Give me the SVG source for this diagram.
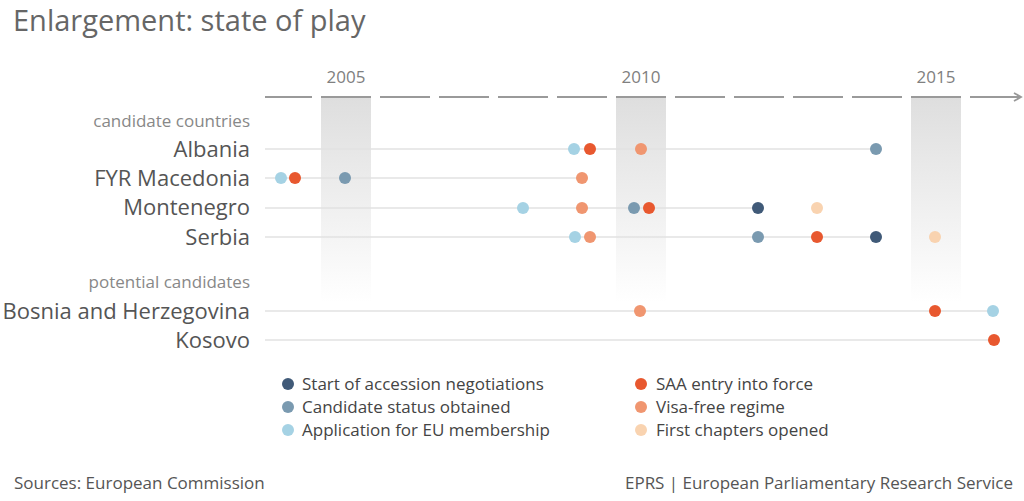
<svg xmlns="http://www.w3.org/2000/svg" width="1024" height="501" viewBox="0 0 1024 501">
<defs>
<linearGradient id="shade" x1="0" y1="0" x2="0" y2="1">
<stop offset="0" stop-color="#dedede"/>
<stop offset="1" stop-color="#ffffff"/>
</linearGradient>
<marker id="arr" markerWidth="10" markerHeight="10" refX="8" refY="5" orient="auto" markerUnits="userSpaceOnUse">
<path d="M1,1 L8,5 L1,9" fill="none" stroke="#999" stroke-width="1.8"/>
</marker>
</defs>
<style>
text{font-family:"Open Sans","Noto Sans","Liberation Sans",sans-serif}
.title{font-size:29px;fill:#666}
.year{font-size:17px;fill:#808080;text-anchor:middle}
.grp{font-size:17px;fill:#888;text-anchor:end}
.cty{font-size:22px;fill:#555;text-anchor:end}
.leg{font-size:17px;fill:#444}
.foot{font-size:17px;fill:#555}
.dash{stroke:#9a9a9a;stroke-width:2}
.row{stroke:#e2e2e2;stroke-width:1.5}
.d1{fill:#405a78}.d2{fill:#7a9ab0}.d3{fill:#a5d2e4}
.d4{fill:#e8582f}.d5{fill:#f09670}.d6{fill:#f9d3b0}
</style>
<rect width="1024" height="501" fill="#fff"/>
<text class="title" x="13" y="31">Enlargement: state of play</text>
<g id="axis">
<rect x="321" y="97" width="50" height="205" fill="url(#shade)"/>
<rect x="616" y="97" width="50" height="205" fill="url(#shade)"/>
<rect x="911" y="97" width="50" height="205" fill="url(#shade)"/>
<text class="year" x="346" y="83">2005</text>
<text class="year" x="641" y="83">2010</text>
<text class="year" x="936" y="83">2015</text>
<path class="dash" d="M265,97H312M321,97H371M380,97H430M439,97H489M498,97H548M557,97H607M616,97H666M675,97H725M734,97H784M793,97H843M852,97H902M911,97H961"/>
<line class="dash" x1="970" y1="97" x2="1021" y2="97" marker-end="url(#arr)"/>
</g>
<g id="connectors">
<line class="row" x1="265" y1="149" x2="876" y2="149"/>
<line class="row" x1="265" y1="178" x2="582" y2="178"/>
<line class="row" x1="265" y1="208" x2="758" y2="208"/>
<line class="row" x1="265" y1="237" x2="876" y2="237"/>
<line class="row" x1="265" y1="311" x2="993" y2="311"/>
<line class="row" x1="265" y1="340" x2="994" y2="340"/>
</g>
<text class="grp" x="250" y="127">candidate countries</text>
<text class="grp" x="250" y="288">potential candidates</text>
<g id="albania">
<text class="cty" x="250" y="157">Albania</text>
<circle class="d3" cx="574" cy="149" r="6"/>
<circle class="d4" cx="590" cy="149" r="6"/>
<circle class="d5" cx="641" cy="149" r="6"/>
<circle class="d2" cx="876" cy="149" r="6"/>
</g>
<g id="macedonia">
<text class="cty" x="250" y="186">FYR Macedonia</text>
<circle class="d3" cx="281" cy="178" r="6"/>
<circle class="d4" cx="295" cy="178" r="6"/>
<circle class="d2" cx="345" cy="178" r="6"/>
<circle class="d5" cx="582" cy="178" r="6"/>
</g>
<g id="montenegro">
<text class="cty" x="250" y="215">Montenegro</text>
<circle class="d3" cx="523" cy="208" r="6"/>
<circle class="d5" cx="582" cy="208" r="6"/>
<circle class="d2" cx="634" cy="208" r="6"/>
<circle class="d4" cx="649" cy="208" r="6"/>
<circle class="d1" cx="758" cy="208" r="6"/>
<circle class="d6" cx="817" cy="208" r="6"/>
</g>
<g id="serbia">
<text class="cty" x="250" y="245">Serbia</text>
<circle class="d3" cx="575" cy="237" r="6"/>
<circle class="d5" cx="590" cy="237" r="6"/>
<circle class="d2" cx="758" cy="237" r="6"/>
<circle class="d4" cx="817" cy="237" r="6"/>
<circle class="d1" cx="876" cy="237" r="6"/>
<circle class="d6" cx="935" cy="237" r="6"/>
</g>
<g id="bosnia">
<text class="cty" x="250" y="319">Bosnia and Herzegovina</text>
<circle class="d5" cx="640" cy="311" r="6"/>
<circle class="d4" cx="935" cy="311" r="6"/>
<circle class="d3" cx="993" cy="311" r="6"/>
</g>
<g id="kosovo">
<text class="cty" x="250" y="348">Kosovo</text>
<circle class="d4" cx="994" cy="340" r="6"/>
</g>
<g id="legend">
<circle class="d1" cx="288" cy="384" r="6"/>
<text class="leg" x="302" y="390">Start of accession negotiations</text>
<circle class="d2" cx="288" cy="407" r="6"/>
<text class="leg" x="302" y="413">Candidate status obtained</text>
<circle class="d3" cx="288" cy="430" r="6"/>
<text class="leg" x="302" y="436">Application for EU membership</text>
<circle class="d4" cx="641" cy="384" r="6"/>
<text class="leg" x="656" y="390">SAA entry into force</text>
<circle class="d5" cx="641" cy="407" r="6"/>
<text class="leg" x="656" y="413">Visa-free regime</text>
<circle class="d6" cx="641" cy="430" r="6"/>
<text class="leg" x="656" y="436">First chapters opened</text>
</g>
<text class="foot" x="14" y="489">Sources: European Commission</text>
<text class="foot" x="1013" y="489" text-anchor="end">EPRS | European Parliamentary Research Service</text>
</svg>
